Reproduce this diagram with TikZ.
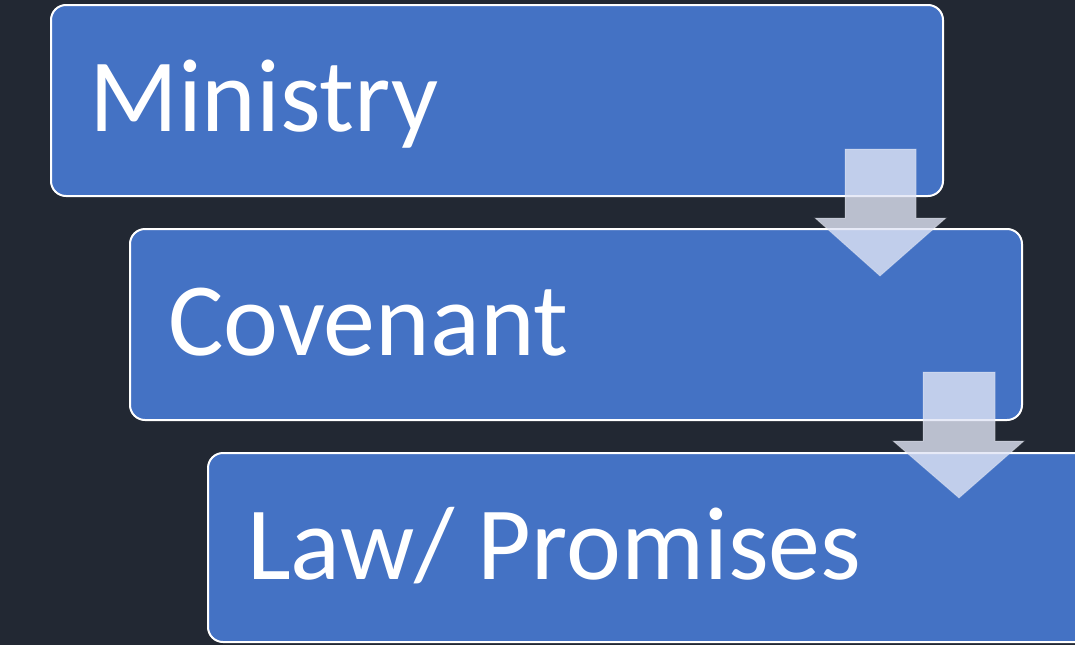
\documentclass[tikz,border=0pt]{standalone}
\usepackage{fontspec}
\setmainfont{Carlito}
\definecolor{bgc}{HTML}{222833}
\definecolor{boxc}{HTML}{4472C4}
\definecolor{arrc}{HTML}{E1E5F5}
\begin{document}
\begin{tikzpicture}[x=1pt,y=-1pt,
  boxstyle/.style={draw=white,line width=2pt,fill=boxc,rounded corners=15pt},
  labelstyle/.style={anchor=base west,inner sep=0pt,text=white,font=\fontsize{104}{110}\selectfont},
  arrowstyle/.style={fill=arrc,fill opacity=0.8,draw=white,draw opacity=0.25,line width=1pt}]
\useasboundingbox (0,0) rectangle (1075,645);
\fill[bgc] (0,0) rectangle (1075,645);
\begin{scope}
\clip (0,0) rectangle (1075,645);
\draw[boxstyle] (51,5) rectangle (943,196);
\draw[boxstyle] (130,229) rectangle (1022,420);
\draw[boxstyle] (208,453) rectangle (1100,642);
\end{scope}
\node[labelstyle] (t1) at (89,131) {Ministry};
\node[labelstyle] (t2) at (168,355) {Covenant};
\node[labelstyle] (t3) at (247,579) {Law/ Promises};
\path[arrowstyle] (845,149) -- (916,149) -- (916,218) -- (946,218) -- (880,276) -- (815,218) -- (845,218) -- cycle;
\path[arrowstyle] (923,372) -- (995,372) -- (995,441) -- (1024,441) -- (959,498) -- (893,441) -- (923,441) -- cycle;
\end{tikzpicture}
\end{document}
